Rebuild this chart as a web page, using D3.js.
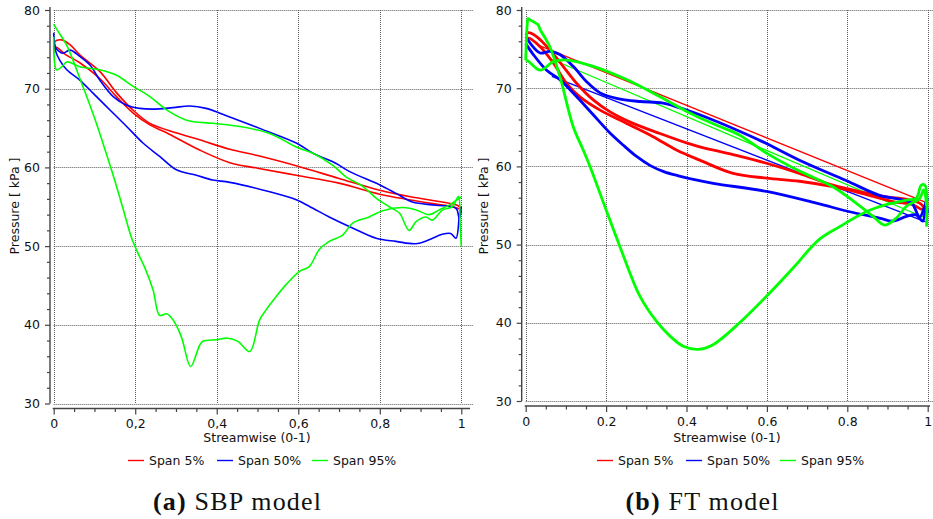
<!DOCTYPE html>
<html>
<head>
<meta charset="utf-8">
<script src="https://cdn.jsdelivr.net/npm/d3@7"></script>
<style>
  html, body { margin: 0; padding: 0; background: #fff; }
  svg { display: block; }
  .tick text, .lbl { font-family: "DejaVu Sans", sans-serif; fill: #111; }
</style>
</head>
<body>
<svg id="chart" width="933" height="519"></svg>
<script>
// ---- data (streamwise position 0-1, pressure kPa) ----
const xTicks = [0, 0.2, 0.4, 0.6, 0.8, 1];
const xMinorTicks = [0.05, 0.1, 0.15, 0.25, 0.3, 0.35, 0.45, 0.5, 0.55, 0.65, 0.7, 0.75, 0.85, 0.9, 0.95];
const yTicks = [30, 40, 50, 60, 70, 80];
const yMinorTicks = [32, 34, 36, 38, 42, 44, 46, 48, 52, 54, 56, 58, 62, 64, 66, 68, 72, 74, 76, 78];
const sbpXLabels = ["0", "0,2", "0,4", "0,6", "0,8", "1"];
const ftXLabels = ["0", "0.2", "0.4", "0.6", "0.8", "1"];
const spanNames = ["Span 5%", "Span 50%", "Span 95%"];
const spanColors = ["#ff0000", "#0000ff", "#00ff00"];

// SBP model
const sbpSpan5Upper = [[0,75.3],[0.003,76.0],[0.02,76.2],[0.04,75.6],[0.064,74.3],[0.113,72.2],[0.154,69.5],[0.194,67.3],[0.236,65.6],[0.3,64.4],[0.358,63.5],[0.432,62.3],[0.5,61.5],[0.595,60.2],[0.7,58.6],[0.8,57.1],[0.872,56.3],[0.93,55.8],[0.99,55.2],[1.0,54.8]];
const sbpSpan5Lower = [[0,75.0],[0.005,75.3],[0.03,74.3],[0.064,73.3],[0.113,71.3],[0.154,69.0],[0.195,66.9],[0.236,65.4],[0.277,64.4],[0.358,62.2],[0.432,60.6],[0.5,59.9],[0.595,59.0],[0.7,58.0],[0.8,56.6],[0.872,55.9],[0.93,55.4],[0.98,55.0],[1.0,54.6]];
const sbpSpan50Upper = [[0,76.5],[0.005,75.2],[0.012,74.8],[0.022,74.5],[0.04,74.9],[0.064,74.1],[0.089,73.0],[0.113,71.1],[0.146,69.0],[0.179,67.9],[0.211,67.5],[0.244,67.4],[0.293,67.6],[0.334,67.8],[0.374,67.5],[0.432,66.4],[0.513,64.8],[0.595,63.1],[0.636,61.8],[0.693,60.5],[0.725,59.5],[0.799,57.8],[0.84,56.7],[0.88,55.6],[0.937,55.2],[0.987,54.8],[0.995,53.5],[1.0,54.5]];
const sbpSpan50Lower = [[0,77.1],[0.004,74.9],[0.015,73.6],[0.032,72.4],[0.064,71.1],[0.097,69.4],[0.138,67.3],[0.179,65.2],[0.219,63.1],[0.26,61.4],[0.301,59.7],[0.35,59.0],[0.39,58.4],[0.432,58.1],[0.53,56.9],[0.595,55.9],[0.636,54.8],[0.676,53.7],[0.733,52.3],[0.791,51.0],[0.84,50.6],[0.889,50.3],[0.921,50.8],[0.953,51.5],[0.974,51.6],[0.987,51.0],[0.995,53.7],[1.0,55.0]];
const sbpSpan95Pressure = [[0,78.2],[0.008,77.5],[0.032,75.5],[0.07,70.5],[0.1,66.3],[0.125,62.4],[0.15,58.3],[0.172,54.4],[0.19,51.2],[0.205,49.3],[0.224,47.2],[0.244,44.4],[0.26,41.2],[0.277,41.4],[0.293,40.6],[0.313,38.5],[0.336,34.7],[0.358,37.4],[0.366,37.9],[0.399,38.1],[0.427,38.3],[0.452,37.9],[0.481,36.6],[0.505,40.6],[0.521,41.9],[0.546,43.6],[0.57,45.1],[0.603,46.8],[0.627,47.4],[0.652,49.6],[0.676,50.6],[0.709,51.4],[0.733,52.9],[0.774,53.7],[0.807,54.5],[0.856,54.9],[0.889,54.6],[0.921,54.0],[0.946,54.6],[0.97,55.2],[0.99,55.9],[1.0,56.2]];
const sbpSpan95Suction = [[0,76.6],[0.007,72.4],[0.02,72.8],[0.032,73.4],[0.064,72.8],[0.113,72.4],[0.154,71.7],[0.195,70.3],[0.236,69.0],[0.277,67.3],[0.326,66.0],[0.391,65.6],[0.456,65.2],[0.53,64.3],[0.595,62.6],[0.636,61.8],[0.684,60.3],[0.717,58.8],[0.758,57.6],[0.791,56.1],[0.823,55.0],[0.848,54.2],[0.872,52.0],[0.889,53.1],[0.913,53.7],[0.929,53.3],[0.954,54.6],[0.978,55.0],[0.993,56.3],[0.997,53.0],[1.0,49.9]];

// FT model
const ftSpan5Upper = [[0,76.8],[0.007,77.1],[0.027,76.6],[0.06,74.9],[0.093,72.8],[0.127,70.6],[0.168,68.5],[0.209,67.0],[0.267,65.5],[0.334,64.2],[0.4,63.0],[0.433,62.5],[0.516,61.5],[0.599,60.4],[0.681,59.1],[0.764,57.6],[0.847,56.6],[0.897,56.1],[0.946,55.8],[0.98,55.3],[0.995,54.5]];
const ftSpan5Lower = [[0,76.0],[0.007,76.4],[0.036,75.3],[0.069,73.2],[0.102,70.6],[0.135,68.9],[0.185,67.2],[0.251,65.5],[0.317,63.8],[0.375,62.1],[0.433,60.8],[0.516,59.1],[0.599,58.5],[0.681,58.1],[0.764,57.4],[0.847,56.4],[0.913,55.5],[0.963,55.1],[0.988,54.5],[1.0,55.5]];
const ftSpan5Chord = [[0.031,75.5],[1.0,55.3]];
const ftSpan50Upper = [[0,76.6],[0.015,75.5],[0.036,74.5],[0.06,74.7],[0.085,74.3],[0.118,72.8],[0.152,70.8],[0.185,69.4],[0.226,68.7],[0.284,68.3],[0.342,68.1],[0.4,67.2],[0.433,66.6],[0.532,64.5],[0.6,62.9],[0.681,60.8],[0.797,58.2],[0.88,56.3],[0.93,55.8],[0.96,55.3],[0.98,53.5],[0.99,54.5],[1.0,56.0]];
const ftSpan50Lower = [[0,75.7],[0.019,74.3],[0.052,72.3],[0.085,71.1],[0.127,68.9],[0.168,66.6],[0.209,64.3],[0.243,62.7],[0.275,61.3],[0.31,60.1],[0.345,59.3],[0.38,58.8],[0.42,58.3],[0.47,57.8],[0.599,56.8],[0.723,55.3],[0.806,54.2],[0.88,53.4],[0.913,53.0],[0.947,53.6],[0.971,53.8],[0.988,53.0],[0.995,55.5],[1.0,54.0]];
const ftSpan50Chord = [[0.065,71.5],[0.995,52.9]];
const ftSpan95Pressure = [[0,73.6],[0.002,76.5],[0.004,78.3],[0.006,78.9],[0.012,78.7],[0.026,78.3],[0.031,78.1],[0.036,77.5],[0.06,75.3],[0.085,71.5],[0.118,65.1],[0.143,62.1],[0.16,60.0],[0.201,54.3],[0.234,49.8],[0.284,43.4],[0.325,40.2],[0.359,38.3],[0.392,37.0],[0.429,36.6],[0.466,37.2],[0.532,40.0],[0.599,43.4],[0.665,47.0],[0.731,50.7],[0.781,52.3],[0.847,54.2],[0.897,55.1],[0.947,55.7],[0.971,55.9],[0.984,57.6],[0.993,57.6],[0.997,52.3]];
const ftSpan95Suction = [[0,73.6],[0.008,73.4],[0.036,72.3],[0.069,73.4],[0.102,73.6],[0.168,72.8],[0.251,71.1],[0.334,68.9],[0.417,66.6],[0.483,65.1],[0.532,64.0],[0.599,61.7],[0.681,59.4],[0.764,57.4],[0.822,55.3],[0.864,53.6],[0.893,52.5],[0.922,53.4],[0.947,54.9],[0.98,55.9],[0.99,57.0],[0.997,55.0]];
const ftSpan95Chord = [[0.06,73.8],[0.99,53.5]];

// ---- layout ----
const panels = [
  {
    xRange: [53.7, 461.3], yRange: [403.5, 10], yAxisX: 50, xAxisY: 408.5, gridRight: 473,
    xLabels: sbpXLabels, yTitleX: 15, titleX: 257, legendX: [128, 217, 312],
    caption: ["(a)", " SBP model"], captionX: 153,
    lines: [
      { data: sbpSpan5Upper, span: 0, w: 1.6 }, { data: sbpSpan5Lower, span: 0, w: 1.6 },
      { data: sbpSpan50Upper, span: 1, w: 1.6 }, { data: sbpSpan50Lower, span: 1, w: 1.6 },
      { data: sbpSpan95Pressure, span: 2, w: 1.6 }, { data: sbpSpan95Suction, span: 2, w: 1.6 },
    ],
  },
  {
    xRange: [525.7, 927.7], yRange: [401, 10], yAxisX: 521.7, xAxisY: 406, gridRight: 933,
    xLabels: ftXLabels, yTitleX: 484, titleX: 727, legendX: [597, 686, 780],
    caption: ["(b)", " FT model"], captionX: 625.5,
    lines: [
      { data: ftSpan5Chord, span: 0, w: 1.3 }, { data: ftSpan50Chord, span: 1, w: 1.3 }, { data: ftSpan95Chord, span: 2, w: 1.3 },
      { data: ftSpan5Upper, span: 0, w: 2.8 }, { data: ftSpan5Lower, span: 0, w: 2.8 },
      { data: ftSpan50Upper, span: 1, w: 2.8 }, { data: ftSpan50Lower, span: 1, w: 2.8 },
      { data: ftSpan95Pressure, span: 2, w: 2.8 }, { data: ftSpan95Suction, span: 2, w: 2.8 },
    ],
  },
];

const svg = d3.select("#chart");
const fs = 12.5;

panels.forEach((p) => {
  const x = d3.scaleLinear().domain([0, 1]).range(p.xRange);
  const y = d3.scaleLinear().domain([30, 80]).range(p.yRange);
  const g = svg.append("g");

  // dotted grid
  const grid = g.append("g").attr("stroke", "#5a5a5a").attr("stroke-width", 1).attr("stroke-dasharray", "1,1");
  grid.selectAll(".hg").data(yTicks).join("line")
    .attr("x1", x(0)).attr("x2", p.gridRight)
    .attr("y1", (d) => Math.round(y(d)) + 0.5).attr("y2", (d) => Math.round(y(d)) + 0.5);
  grid.selectAll(".vg").data(xTicks).join("line")
    .attr("x1", (d) => Math.round(x(d)) + 0.5).attr("x2", (d) => Math.round(x(d)) + 0.5)
    .attr("y1", y(80)).attr("y2", y(30));

  // axes
  const yAxisG = g.append("g").attr("transform", `translate(${p.yAxisX},0)`);
  yAxisG.append("g").call(d3.axisLeft(y).tickValues(yMinorTicks).tickSize(3).tickSizeOuter(0).tickFormat(""));
  yAxisG.append("g").call(d3.axisLeft(y).tickValues(yTicks).tickSize(5).tickSizeOuter(0).tickPadding(5))
    .call((a) => a.selectAll("text").style("font-size", fs + "px"));
  yAxisG.selectAll(".domain").remove();
  yAxisG.append("line").attr("x1", 0).attr("x2", 0).attr("y1", y(80) - 3).attr("y2", y(30));

  const xAxisG = g.append("g").attr("transform", `translate(0,${p.xAxisY})`);
  xAxisG.append("g").call(d3.axisBottom(x).tickValues(xMinorTicks).tickSize(3.5).tickSizeOuter(0).tickFormat(""));
  xAxisG.append("g").call(d3.axisBottom(x).tickValues(xTicks).tickSize(6).tickSizeOuter(0).tickPadding(5)
      .tickFormat((d, i) => p.xLabels[i]))
    .call((a) => a.selectAll("text").style("font-size", fs + "px"));
  xAxisG.selectAll(".domain").remove();
  xAxisG.append("line").attr("x1", x(0) - 1).attr("x2", p.gridRight - 3).attr("y1", 0).attr("y2", 0);

  g.selectAll(".tick line").attr("stroke", "#444").attr("stroke-width", 1.2);
  yAxisG.selectAll(":scope > line").attr("stroke", "#444").attr("stroke-width", 1.4);
  xAxisG.selectAll(":scope > line").attr("stroke", "#444").attr("stroke-width", 1.4);

  // curves
  const lineGen = d3.line().x((d) => x(d[0])).y((d) => y(d[1])).curve(d3.curveCatmullRom.alpha(0.5));
  g.append("g").selectAll("path").data(p.lines).join("path")
    .attr("d", (d) => lineGen(d.data))
    .attr("fill", "none")
    .attr("stroke", (d) => spanColors[d.span])
    .attr("stroke-width", (d) => d.w)
    .attr("stroke-linejoin", "round");

  // titles
  g.append("text").attr("class", "lbl")
    .attr("x", p.titleX).attr("y", 442).attr("text-anchor", "middle")
    .style("font-size", fs + "px").text("Streamwise (0-1)");
  g.append("text").attr("class", "lbl")
    .attr("transform", `translate(${p.yTitleX + 4},206) rotate(-90)`)
    .attr("text-anchor", "middle").style("font-size", fs + "px").text("Pressure [ kPa ]");

  // legend
  const leg = g.append("g").attr("transform", "translate(0,460.5)");
  spanNames.forEach((name, i) => {
    leg.append("line").attr("x1", p.legendX[i]).attr("x2", p.legendX[i] + 16)
      .attr("y1", 0).attr("y2", 0).attr("stroke", spanColors[i]).attr("stroke-width", 1.4);
    leg.append("text").attr("class", "lbl").attr("x", p.legendX[i] + 21).attr("y", 4.4)
      .style("font-size", fs + "px").text(name);
  });

  // caption
  const cap = g.append("text").attr("x", p.captionX).attr("y", 509.5)
    .style("font-family", "'Liberation Serif', serif").style("font-size", "26px")
    .style("letter-spacing", "1.2px").attr("fill", "#111");
  cap.append("tspan").style("font-weight", "bold").text(p.caption[0]);
  cap.append("tspan").text(p.caption[1]);
});
</script>
</body>
</html>
